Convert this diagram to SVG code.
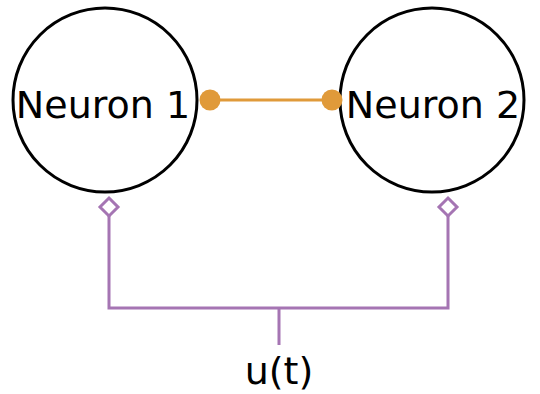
<svg xmlns="http://www.w3.org/2000/svg" width="540" height="394" viewBox="0 0 540 394">
<style>
.node{fill:#fff;stroke:#000;stroke-width:3}
.lbl{font-family:"DejaVu Sans","Noto Sans",sans-serif;font-size:38px;fill:#000;text-anchor:middle}
.syn{stroke:#E09A3A;stroke-width:3;fill:none}
.dot{fill:#E09A3A}
.inp{stroke:#A575B3;stroke-width:3;fill:none}
.dia{fill:#fff;stroke:#A575B3;stroke-width:3}
</style>
<g id="neuron1">
<circle class="node" cx="105" cy="100" r="92"/>
<text class="lbl" x="103" y="118">Neuron 1</text>
</g>
<g id="neuron2">
<circle class="node" cx="432" cy="100" r="92"/>
<text class="lbl" x="433" y="118">Neuron 2</text>
</g>
<g id="connectors">
<line class="syn" x1="210" y1="100" x2="332" y2="100"/>
<circle class="dot" cx="210" cy="100" r="10.5"/>
<circle class="dot" cx="332" cy="100" r="10.5"/>
<path class="inp" d="M109 215 V308 H448 V215 M279 308 V345"/>
<path class="dia" d="M109 198 L118 207 L109 216 L100 207 Z"/>
<path class="dia" d="M448 198 L457 207 L448 216 L439 207 Z"/>
</g>
<g id="input">
<text class="lbl" x="279" y="384">u(t)</text>
</g>
</svg>
